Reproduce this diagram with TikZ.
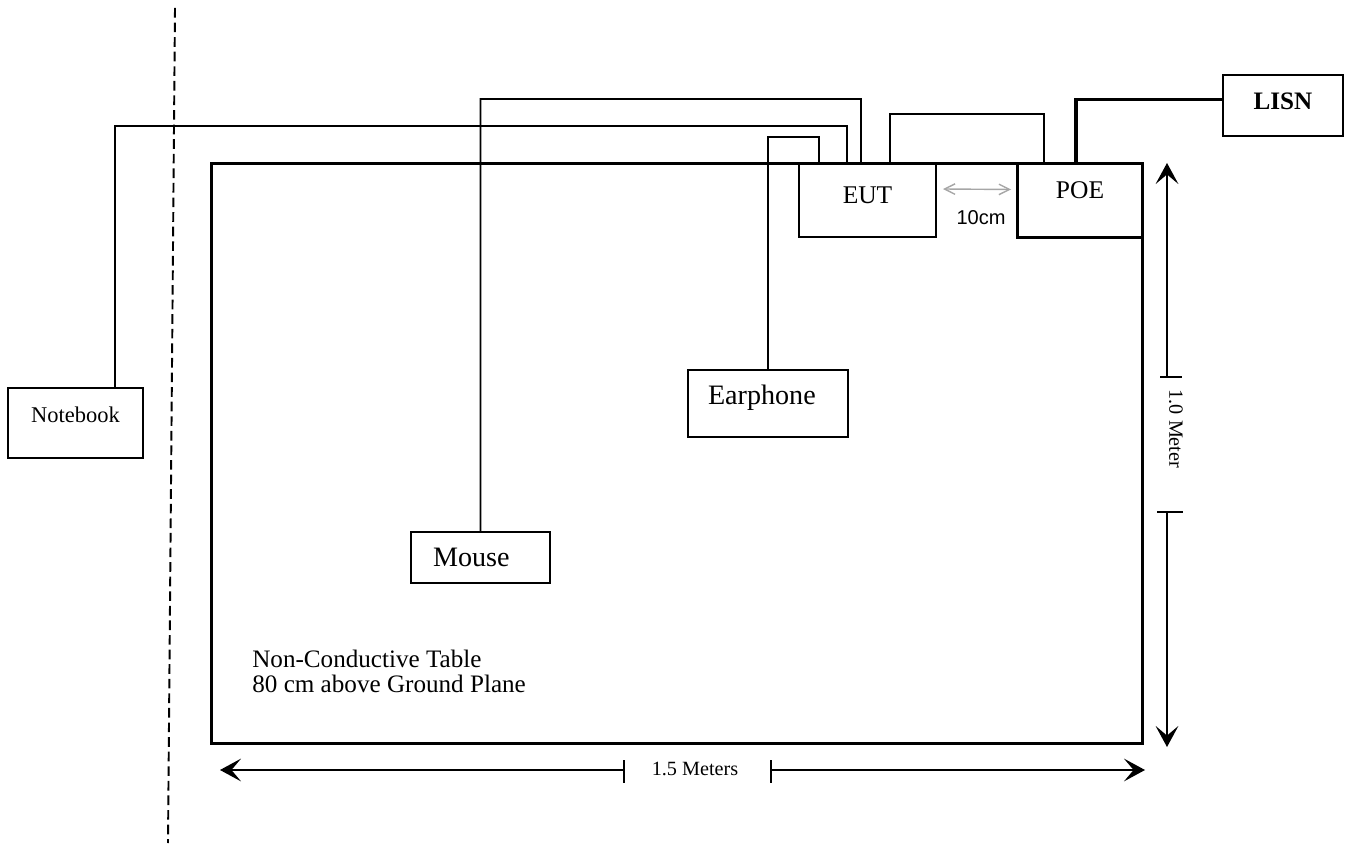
\documentclass[tikz,border=0pt]{standalone}
\usepackage{fontspec}
\setmainfont{Liberation Serif}
\setsansfont{Liberation Sans}
\usetikzlibrary{arrows.meta, calc}

\begin{document}
\begin{tikzpicture}[
    x=0.02cm, y=-0.02cm,
    box/.style={rectangle, draw, line width=0.9pt, inner sep=0pt, outer sep=0pt, align=center},
    heavybox/.style={box, line width=1.7pt},
    cable/.style={line width=0.9pt},
    powercable/.style={line width=1.8pt},
    dimline/.style={line width=0.8pt, -{Stealth[length=12pt, width=13pt, inset=5.5pt]}},
    gaparrow/.style={draw=gray!70, line width=0.8pt, {Straight Barb[length=6pt, width=6pt]}-{Straight Barb[length=6pt, width=6pt]}},
    tickmark/.style={line width=0.8pt},
]
\useasboundingbox (0,0) rectangle (1349,847);

% table and devices
\node[heavybox, minimum width=18.64cm, minimum height=11.62cm] (table) at (677,453.5) {};
\node[box, minimum width=2.74cm, minimum height=1.48cm, text depth=0.2cm, font=\fontsize{14.5}{17}\selectfont] (eut) at (867.5,200) {EUT};
\node[heavybox, minimum width=2.52cm, minimum height=1.5cm, text depth=0.4cm, font=\fontsize{14.5}{17}\selectfont] (poe) at (1080,200.5) {POE};
\node[box, minimum width=2.4cm, minimum height=1.22cm, text depth=0.18cm, font=\fontsize{14.3}{17}\selectfont\bfseries] (lisn) at (1283,105.5) {LISN};
\node[box, minimum width=3.2cm, minimum height=1.34cm, text width=2.4cm, inner xsep=0.4cm, align=left, text depth=0.35cm, font=\fontsize{16}{19}\selectfont] (earphone) at (768,403.5) {Earphone};
\node[box, minimum width=2.78cm, minimum height=1.02cm, text width=1.9cm, inner xsep=0.44cm, align=left, font=\fontsize{16}{19}\selectfont] (mouse) at (480.5,557.5) {Mouse};
\node[box, minimum width=2.7cm, minimum height=1.4cm, text depth=0.33cm, font=\fontsize{12.8}{15}\selectfont] (notebook) at (75.5,423) {Notebook};

\node[anchor=west, inner sep=0pt, align=left, font=\fontsize{14.3}{14.2}\selectfont] (tablelabel) at (252,671) {Non-Conductive Table\\80 cm above Ground Plane};

% cables
\draw[cable] ([xshift=0.79cm]notebook.north) |- (847,126) -- ([xshift=-0.41cm]eut.north);
\draw[cable] (mouse.north) |- (861,99) -- ([xshift=-0.13cm]eut.north);
\draw[cable] (earphone.north) |- (819,137) -- ([xshift=-0.97cm]eut.north);
\draw[cable] ([xshift=0.45cm]eut.north) |- (1044,114) -- ([xshift=-0.72cm]poe.north);
\draw[powercable] ([xshift=-0.08cm]poe.north) |- ([yshift=0.12cm]lisn.west);

% 10cm gap
\draw[gaparrow] ([xshift=0.14cm,yshift=0.22cm]eut.east) -- ([xshift=-0.12cm,yshift=0.22cm]poe.west);
\node[font=\sffamily\fontsize{11.4}{13}\selectfont] (gaplabel) at (981,218) {10cm};

% dashed boundary
\coordinate (divtop) at (175,8);
\coordinate (divbot) at (168,843);
\draw[line width=1.1pt, dash pattern=on 5.5pt off 2.8pt] (divtop) -- (divbot);

% 1.5 m dimension
\coordinate (hleft) at (220,770);
\coordinate (htickl) at (624,770);
\coordinate (htickr) at (771,770);
\coordinate (hright) at (1145,770);
\draw[dimline] (htickl) -- (hleft);
\draw[dimline] (htickr) -- (hright);
\draw[tickmark] ([yshift=0.2cm]htickl) -- ([yshift=-0.26cm]htickl);
\draw[tickmark] ([yshift=0.2cm]htickr) -- ([yshift=-0.26cm]htickr);
\node[font=\fontsize{11.5}{13}\selectfont] (hlabel) at (695,769) {1.5 Meters};

% 1.0 m dimension
\coordinate (vtop) at (1167,163);
\coordinate (vticku) at (1167,377);
\coordinate (vtickd) at (1167,512);
\coordinate (vbot) at (1167,747);
\draw[dimline] (vticku) -- (vtop);
\draw[dimline] (vtickd) -- (vbot);
\draw[tickmark] ([xshift=-0.14cm]vticku) -- ([xshift=0.3cm]vticku);
\draw[tickmark] ([xshift=-0.2cm]vtickd) -- ([xshift=0.32cm]vtickd);
\node[rotate=-90, font=\fontsize{11.5}{13}\selectfont] (vlabel) at (1176,429) {1.0 Meter};

\end{tikzpicture}
\end{document}
